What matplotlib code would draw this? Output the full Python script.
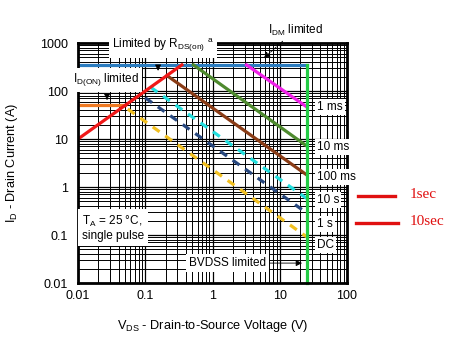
import matplotlib.pyplot as plt
from matplotlib.ticker import LogLocator, NullFormatter, FixedLocator

plt.rcParams['font.family'] = ['Liberation Sans', 'DejaVu Sans']

# safe operating area limit lines (V, A)
rds_v = [0.01, 0.35]
rds_i = [10, 350]
idm_v = [0.01, 25]
idm_i = [350, 350]
idon_v = [0.01, 0.05]
idon_i = [50, 50]
bvdss_v = [25, 25]
bvdss_i = [350, 0.01]

# pulse lines (solid)
ms1_v, ms1_i = [3.2, 25], [350, 47]
ms10_v, ms10_i = [0.52, 25], [350, 7.2]
ms100_v, ms100_i = [0.21, 25], [210, 1.8]
# pulse lines (dashed)
s10_v, s10_i = [0.12, 25], [120, 0.58]
s1_v, s1_i = [0.1, 25], [72, 0.29]
dc_v, dc_i = [0.055, 25], [42, 0.092]

pulse_labels = ['1 ms', '10 ms', '100 ms', '10 s', '1 s', 'DC']
pulse_label_i = [46, 6.8, 1.6, 0.54, 0.17, 0.062]

xticks = [0.01, 0.1, 1, 10, 100]
xtick_labels = ['0.01', '0.1', '1', '10', '100']
yticks = [0.01, 0.1, 1, 10, 100, 1000]
ytick_labels = ['0.01', '0.1', '1', '10', '100', '1000']

fig = plt.figure(figsize=(4.74, 3.37), dpi=100)
ax = fig.add_axes([0.1646, 0.1602, 0.5675, 0.7122])
ax.set_xscale('log')
ax.set_yscale('log')
ax.set_xlim(0.01, 100)
ax.set_ylim(0.01, 1000)

ax.xaxis.set_major_locator(FixedLocator(xticks))
ax.yaxis.set_major_locator(FixedLocator(yticks))
ax.set_xticklabels(xtick_labels, fontsize=9)
ax.set_yticklabels(ytick_labels, fontsize=9)
ax.xaxis.set_minor_locator(LogLocator(base=10, subs=range(2, 10), numticks=20))
ax.yaxis.set_minor_locator(LogLocator(base=10, subs=range(2, 10), numticks=20))
ax.xaxis.set_minor_formatter(NullFormatter())
ax.yaxis.set_minor_formatter(NullFormatter())
ax.tick_params(which='both', length=0)
ax.tick_params(axis='y', pad=7)
ax.tick_params(axis='x', pad=5)
ax.grid(which='major', color='black', linewidth=0.9)
ax.grid(which='minor', color='black', linewidth=0.7)
ax.set_axisbelow(True)
for s in ax.spines.values():
    s.set_linewidth(2)

lw = 2.3
dash = (2.6, 2.2)
ax.plot(idm_v, idm_i, color='#2a7cc0', lw=lw)
ax.plot(idon_v, idon_i, color='#f07a22', lw=lw)
ax.plot(ms1_v, ms1_i, color='#f020e8', lw=lw)
ax.plot(ms10_v, ms10_i, color='#4e8a2e', lw=lw)
ax.plot(ms100_v, ms100_i, color='#8a3c16', lw=lw)
ax.plot(s10_v, s10_i, color='#22dede', lw=lw, dashes=dash)
ax.plot(s1_v, s1_i, color='#27477e', lw=lw, dashes=dash)
ax.plot(dc_v, dc_i, color='#f2c020', lw=lw, dashes=dash)
ax.plot(rds_v, rds_i, color='#f01818', lw=lw)
ax.plot(bvdss_v, bvdss_i, color='#22cc44', lw=lw, clip_on=False)

box = dict(facecolor='white', edgecolor='none', pad=1.5)
for lab, yi in zip(pulse_labels, pulse_label_i):
    ax.text(35.6, yi, lab, fontsize=8.5, va='center', ha='left', bbox=box, clip_on=False)

ax.text(0.032, 900, r'Limited by R$_{\mathregular{DS(on)}}$ $^{\mathregular{a}}$', fontsize=8.5,
        va='center', ha='left', bbox=dict(facecolor='white', edgecolor='none', pad=2.5))
ax.text(0.0084, 170, r'I$_{\mathregular{D(ON)}}$ limited', fontsize=8.5, va='center', ha='left',
        bbox=dict(facecolor='white', edgecolor='none', pad=2.5), clip_on=False)
ax.text(0.0115, 0.14, 'T$_{\\mathregular{A}}$ = 25 °C,\nsingle pulse', fontsize=8.5,
        va='center', ha='left', linespacing=1.1,
        bbox=dict(facecolor='white', edgecolor='none', pad=3))
ax.text(0.447, 0.026, 'BVDSS limited', fontsize=8.5, va='center', ha='left',
        bbox=dict(facecolor='white', edgecolor='none', pad=2))
ax.annotate('', xy=(23.6, 0.026), xytext=(6.5, 0.026),
            arrowprops=dict(arrowstyle='-|>', color='black', lw=0.6, mutation_scale=9))
ax.annotate('', xy=(0.155, 230), xytext=(0.155, 330),
            arrowprops=dict(arrowstyle='-|>', color='black', lw=0.6, mutation_scale=9))
ax.annotate('', xy=(0.027, 57), xytext=(0.027, 80),
            arrowprops=dict(arrowstyle='-|>', color='black', lw=0.6, mutation_scale=9))
ax.annotate(r'I$_{\mathregular{DM}}$ limited', xy=(5.4, 440), xytext=(6.6, 1870),
            fontsize=8.5, ha='left', va='center', annotation_clip=False,
            arrowprops=dict(arrowstyle='-|>', color='black', lw=0.6, ls='--',
                            mutation_scale=9, shrinkA=1))

ax.set_xlabel(r'V$_{\mathregular{DS}}$ - Drain-to-Source Voltage (V)', fontsize=9.2)
ax.set_ylabel(r'I$_{\mathregular{D}}$ - Drain Current (A)', fontsize=9.2)
ax.xaxis.set_label_coords(0.5, -0.145)
ax.yaxis.set_label_coords(-0.215, 0.5)

# hand-written red notes on the right
ax.plot([1.041, 1.178], [0.3625, 0.3625], color='#e01010', lw=2.4,
        transform=ax.transAxes, clip_on=False)
ax.plot([1.033, 1.19], [0.25, 0.25], color='#e01010', lw=2.4,
        transform=ax.transAxes, clip_on=False)
ax.text(1.234, 0.37, '1sec', color='#e01010', fontsize=11, family='Liberation Serif',
        va='center', ha='left', transform=ax.transAxes)
ax.text(1.234, 0.255, '10sec', color='#e01010', fontsize=11, family='Liberation Serif',
        va='center', ha='left', transform=ax.transAxes)

fig.savefig('out.png', dpi=100)
